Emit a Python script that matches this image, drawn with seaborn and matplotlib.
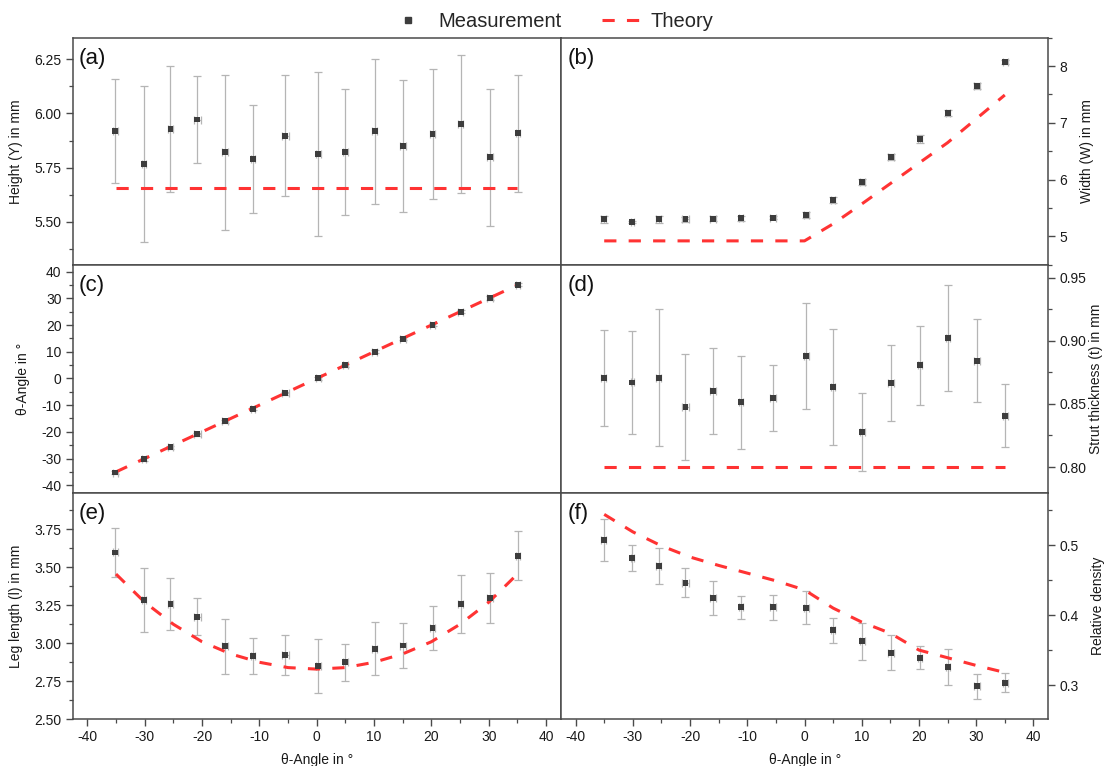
import matplotlib
matplotlib.use("Agg")
import matplotlib.pyplot as plt
from matplotlib.lines import Line2D
from matplotlib.ticker import MultipleLocator, FormatStrFormatter
import seaborn as sns

# ---- data -------------------------------------------------------------
theta_nominal = [-35, -30, -25, -20, -15, -10, -5, 0, 5, 10, 15, 20, 25, 30, 35]
theta_meas = [-35.1, -30.1, -25.5, -20.8, -16.0, -11.1, -5.5, 0.3,
              5.0, 10.1, 15.1, 20.2, 25.1, 30.2, 35.1]
theta_err = [0.5, 0.3, 0.5, 0.6, 0.5, 0.4, 0.6, 0.4, 0.4, 0.4, 0.5, 0.4, 0.4, 0.5, 0.4]

height = [5.917, 5.765, 5.928, 5.972, 5.820, 5.789, 5.897, 5.813,
          5.823, 5.917, 5.849, 5.905, 5.951, 5.797, 5.909]
height_err = [0.24, 0.36, 0.29, 0.20, 0.36, 0.25, 0.28, 0.38,
              0.29, 0.335, 0.305, 0.30, 0.32, 0.315, 0.27]
height_theory = [5.657, 5.657, 5.657, 5.657, 5.657, 5.657, 5.657, 5.657,
                 5.657, 5.657, 5.657, 5.657, 5.657, 5.657, 5.657]

width = [5.30, 5.258, 5.30, 5.30, 5.31, 5.317, 5.329, 5.376,
         5.64, 5.957, 6.397, 6.715, 7.178, 7.648, 8.071]
width_err = [0.06, 0.02, 0.06, 0.04, 0.04, 0.05, 0.03, 0.06,
             0.06, 0.06, 0.05, 0.07, 0.05, 0.06, 0.03]
width_theory = [4.92, 4.92, 4.92, 4.92, 4.92, 4.92, 4.92, 4.92,
                5.22, 5.57, 5.93, 6.29, 6.65, 7.07, 7.49]

angle = [-35.25, -30.25, -25.75, -20.9, -16.1, -11.4, -5.5, 0.1,
         4.9, 10.0, 14.9, 20.1, 25.0, 30.1, 35.1]
angle_err = [0.6, 0.5, 0.6, 0.5, 0.6, 0.6, 0.6, 0.5, 0.5, 0.5, 0.5, 0.5, 0.5, 0.6, 0.5]
angle_theory = [-35, -30, -25, -20, -15, -10, -5, 0, 5, 10, 15, 20, 25, 30, 35]

strut = [0.8702, 0.8670, 0.8708, 0.8478, 0.8605, 0.8512, 0.8547, 0.8882,
         0.8636, 0.8275, 0.8668, 0.8805, 0.9022, 0.8842, 0.8407]
strut_err = [0.038, 0.041, 0.054, 0.042, 0.034, 0.037, 0.026, 0.042,
             0.046, 0.031, 0.030, 0.031, 0.042, 0.033, 0.025]
strut_theory = [0.80, 0.80, 0.80, 0.80, 0.80, 0.80, 0.80, 0.80,
                0.80, 0.80, 0.80, 0.80, 0.80, 0.80, 0.80]

leg = [3.597, 3.282, 3.256, 3.175, 2.980, 2.917, 2.924, 2.851,
       2.875, 2.965, 2.985, 3.100, 3.256, 3.297, 3.575]
leg_err = [0.16, 0.21, 0.17, 0.12, 0.18, 0.12, 0.13, 0.18,
           0.12, 0.175, 0.145, 0.145, 0.19, 0.165, 0.16]
leg_theory = [3.455, 3.27, 3.125, 3.01, 2.93, 2.875, 2.84, 2.83,
              2.84, 2.875, 2.93, 3.01, 3.125, 3.27, 3.455]

density = [0.5071, 0.4814, 0.4705, 0.4462, 0.4248, 0.4110, 0.4110, 0.4105,
           0.3781, 0.3624, 0.3462, 0.3390, 0.3257, 0.2981, 0.3033]
density_err = [0.030, 0.019, 0.026, 0.021, 0.024, 0.017, 0.0175, 0.0236,
               0.018, 0.026, 0.025, 0.0167, 0.0255, 0.018, 0.0136]
density_theory = [0.544, 0.519, 0.499, 0.483, 0.471, 0.460, 0.449, 0.436,
                  0.410, 0.390, 0.374, 0.350, 0.339, 0.328, 0.318]

# ---- style ------------------------------------------------------------
sns.set_theme(style="ticks")
plt.rcParams["font.family"] = ["Liberation Sans", "DejaVu Sans"]
plt.rcParams["axes.unicode_minus"] = False
plt.rcParams["axes.linewidth"] = 1.1
plt.rcParams["axes.edgecolor"] = "#4a4a4a"

RED = "#FF3333"
MARK = "#3d3d3d"
ERR = "#b5b5b5"
DASH = (4, 4)

W, H = 1105, 766
fig = plt.figure(figsize=(W / 100, H / 100), dpi=100)

col_x = [72.7, 561.0, 1048.3]
row_y = [37.7, 265.0, 492.7, 719.3]


def make_axes(col, row):
    x0, x1 = col_x[col], col_x[col + 1]
    y0, y1 = row_y[row], row_y[row + 1]
    return fig.add_axes([x0 / W, 1 - y1 / H, (x1 - x0) / W, (y1 - y0) / H])


panels = [
    # col, row, tag, y, yerr, theory, ylabel, ylim, major, minor, fmt, labelpad
    (0, 0, "(a)", height, height_err, height_theory, "Height (Y) in mm",
     (5.30, 6.35), 0.25, 0.125, "%.2f", 8),
    (1, 0, "(b)", width, width_err, width_theory, "Width (W) in mm",
     (4.495, 8.50), 1.0, 0.5, "%d", 9),
    (0, 1, "(c)", angle, angle_err, angle_theory, "θ-Angle in °",
     (-42.8, 42.5), 10, 5, "%d", 8),
    (1, 1, "(d)", strut, strut_err, strut_theory, "Strut thickness (t) in mm",
     (0.7797, 0.96), 0.05, 0.025, "%.2f", 2),
    (0, 2, "(e)", leg, leg_err, leg_theory, "Leg length (l) in mm",
     (2.50, 3.99), 0.25, 0.125, "%.2f", 8),
    (1, 2, "(f)", density, density_err, density_theory, "Relative density",
     (0.251, 0.575), 0.1, 0.05, "%.1f", 9),
]

for col, row, tag, yv, ye, yt, ylabel, ylim, major, minor, fmt, lpad in panels:
    ax = make_axes(col, row)

    ax.errorbar(theta_meas, yv, yerr=ye, xerr=theta_err, fmt="none",
                ecolor=ERR, elinewidth=0.9, capsize=3.2, capthick=0.9, zorder=1)
    sns.lineplot(x=theta_nominal, y=yt, ax=ax, color=RED, linewidth=2.2,
                 zorder=2, legend=False)
    ax.lines[-1].set_dashes(DASH)
    sns.scatterplot(x=theta_meas, y=yv, ax=ax, marker="s", s=18, color=MARK,
                    edgecolor="none", linewidth=0, zorder=3, legend=False)

    ax.set_xlim(-42.55, 42.6)
    ax.set_ylim(*ylim)
    ax.xaxis.set_major_locator(MultipleLocator(10))
    ax.xaxis.set_minor_locator(MultipleLocator(5))
    ax.yaxis.set_major_locator(MultipleLocator(major))
    ax.yaxis.set_minor_locator(MultipleLocator(minor))
    ax.yaxis.set_major_formatter(FormatStrFormatter(fmt))

    ax.tick_params(which="both", direction="out", color="#4a4a4a",
                   labelsize=10, labelcolor="#1a1a1a", top=False, pad=3)
    ax.tick_params(which="major", length=5, width=1.0)
    ax.tick_params(which="minor", length=3, width=0.9)

    if col == 0:
        ax.tick_params(which="both", left=True, right=False,
                       labelleft=True, labelright=False)
    else:
        ax.tick_params(which="both", left=False, right=True,
                       labelleft=False, labelright=True)
        ax.yaxis.set_label_position("right")

    ax.set_ylabel(ylabel, fontsize=10, color="#1a1a1a", labelpad=lpad)

    if row == 2:
        ax.set_xlabel("θ-Angle in °", fontsize=10, color="#1a1a1a", labelpad=6)
        ax.tick_params(axis="x", labelbottom=True)
    else:
        ax.set_xlabel("")
        ax.tick_params(axis="x", labelbottom=False)

    ax.text(0.013, 0.91, tag, transform=ax.transAxes, fontsize=16,
            ha="left", va="center", color="#111111")

    for side in ["top", "bottom", "left", "right"]:
        ax.spines[side].set_visible(True)

# ---- shared legend ----------------------------------------------------
handles = [
    Line2D([], [], marker="s", linestyle="none", color=MARK, markersize=4),
    Line2D([], [], color=RED, linewidth=2.2, dashes=DASH),
]
fig.legend(handles, ["Measurement", "Theory"], loc="upper center",
           bbox_to_anchor=(0.499, 1.008), ncol=2, frameon=False, fontsize=14.5,
           handlelength=1.85, handletextpad=0.55, columnspacing=2.0)

fig.savefig("out.png", dpi=100, facecolor="white")
